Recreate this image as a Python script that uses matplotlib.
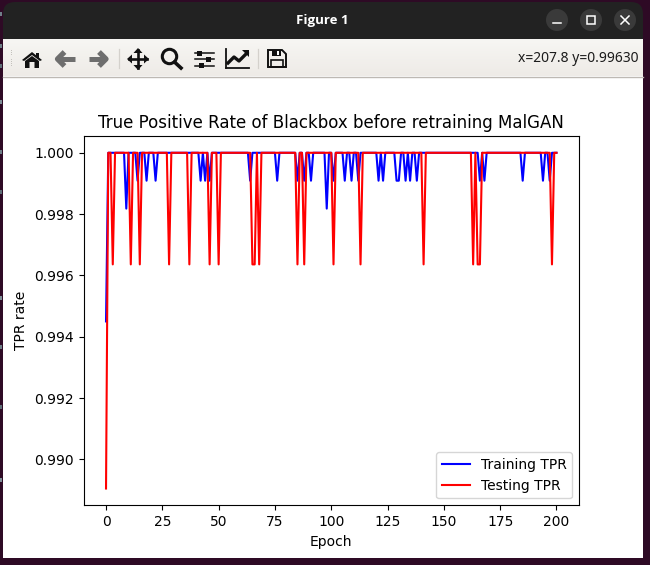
import numpy as np
import matplotlib
matplotlib.use('Agg')
import matplotlib.pyplot as plt
from matplotlib.patches import Rectangle, Polygon, Circle, FancyBboxPatch

# epochs where the curves leave 1.0
epochs = np.arange(0, 201)
train_start = 0.9945
test_start = 0.98905
train_small_dips = [14, 18, 22, 42, 44, 46, 64, 76, 85, 88, 91, 101, 106, 109, 112,
                    121, 123, 129, 130, 133, 135, 138, 166, 168, 185, 194, 197]
train_small_value = 0.99909
train_deep_dips = [9, 98]
train_deep_value = 0.99818
test_dips = [3, 11, 15, 28, 37, 46, 50, 65, 66, 68, 85, 88, 101, 113, 141, 163, 165, 166, 198]
test_dip_value = 0.99636

train_tpr = np.ones(len(epochs))
train_tpr[train_small_dips] = train_small_value
train_tpr[train_deep_dips] = train_deep_value
train_tpr[0] = train_start
test_tpr = np.ones(len(epochs))
test_tpr[test_dips] = test_dip_value
test_tpr[0] = test_start

W, H = 650, 565
fig = plt.figure(figsize=(W / 100, H / 100), dpi=100, facecolor='#2e0a25')

# window chrome, in screen pixels
bg = fig.add_axes([0, 0, 1, 1], zorder=0)
bg.axis('off')
grad = np.linspace(0, 1, 40)[:, None]
bg.imshow(grad, extent=(3, 643, 76, 39), aspect='auto', zorder=2,
          cmap=matplotlib.colors.LinearSegmentedColormap.from_list('tb', ['#f7f6f3', '#eeebe7']))
bg.set_xlim(0, W)
bg.set_ylim(H, 0)
bg.add_patch(FancyBboxPatch((3, 2), 640, 60, boxstyle='round,pad=0,rounding_size=12',
                            fc='#222222', ec='none', zorder=1))
bg.add_patch(Rectangle((3, 76), 640, 482, fc='white', ec='none', zorder=1))
bg.plot([3, 643], [76.5, 76.5], color='#bdb9b4', lw=1, zorder=3)
bg.text(322, 20.5, 'Figure 1', color='white', fontsize=9.5, fontweight='bold',
        family='Open Sans', ha='center', va='center')
bg.text(638.5, 58, 'x=207.8 y=0.99630', color='#1c1c1c', fontsize=10, family='Noto Sans',
        ha='right', va='center', zorder=4)

# desktop showing at the left edge
for y, c in [(12, '#6f7f88'), (44, '#6f7f88'), (64, '#5f6f78'), (100, '#7f8f98'), (150, '#6f7f88'),
             (190, '#5f6f78'), (296, '#7f8f98'), (345, '#6f7f88'), (405, '#5f6f78'), (478, '#7f8f98')]:
    bg.add_patch(Rectangle((0, y), 2, 4, fc=c, ec='none', zorder=1))

# title bar buttons
for cx in [557, 591, 625]:
    bg.add_patch(Circle((cx, 20), 11, fc='#3a3a3a', ec='none', zorder=3))
bg.plot([553, 561], [23, 23], color='white', lw=1.1, zorder=4)
bg.add_patch(Rectangle((587, 16), 8, 8, fc='none', ec='white', lw=1.1, zorder=4))
bg.plot([621, 629], [16, 24], color='white', lw=1.1, zorder=4)
bg.plot([621, 629], [24, 16], color='white', lw=1.1, zorder=4)

# toolbar icons
ink = '#111111'
grey = '#6e6e6e'
for gx in [8.5, 11]:
    for gy in np.arange(50, 67, 2.2):
        bg.add_patch(Rectangle((gx, gy), 0.8, 0.8, fc='#c4c2bd', ec='none', zorder=4))
for sx in [118.5, 257.5]:
    bg.plot([sx, sx], [49, 68], color='#d4d1cc', lw=0.9, zorder=4)

# home
bg.add_patch(Polygon([(22, 60), (32, 52), (42, 60), (40, 61), (32, 55), (24, 61)], fc=ink, zorder=4))
bg.add_patch(Polygon([(25, 61), (32, 56), (39, 61), (39, 68), (34.5, 68), (34.5, 62), (29.5, 62),
                      (29.5, 68), (25, 68)], fc=ink, zorder=4))
bg.add_patch(Rectangle((36, 53), 3, 5, fc=ink, zorder=4))

# back and forward
for cx, d in [(65.5, -1), (98, 1)]:
    bg.plot([cx - 9 * d, cx + 6 * d], [59, 59], color=grey, lw=3.6, solid_capstyle='butt', zorder=4)
    bg.plot([cx + 1 * d, cx + 8 * d, cx + 1 * d], [52, 59, 66], color=grey, lw=3.8,
            solid_capstyle='butt', zorder=4)

# move
bg.plot([129, 147], [59, 59], color=ink, lw=1.9, zorder=4)
bg.plot([138, 138], [50, 68], color=ink, lw=1.9, zorder=4)
for tip, a, b in [((127, 59), (132, 54.5), (132, 63.5)), ((149, 59), (144, 54.5), (144, 63.5)),
                  ((138, 48), (133.5, 53), (142.5, 53)), ((138, 70), (133.5, 65), (142.5, 65))]:
    bg.add_patch(Polygon([tip, a, b], fc=ink, zorder=4))

# zoom
bg.add_patch(Circle((169.5, 56.5), 7.2, fc='none', ec=ink, lw=2.2, zorder=4))
bg.plot([174.5, 181], [62, 68], color=ink, lw=2.6, zorder=4)

# sliders
for sy, sx in [(53, 199), (59, 208), (65.5, 201)]:
    bg.plot([195, 214], [sy, sy], color=ink, lw=1.1, zorder=4)
    bg.add_patch(Rectangle((sx - 2.5, sy - 2.5), 5, 5, fc=ink, zorder=4))

# chart
bg.plot([226, 249], [67.5, 67.5], color=ink, lw=1.3, zorder=4)
bg.plot([225.5, 225.5], [49, 68], color=ink, lw=1.3, zorder=4)
bg.plot([228, 234, 239, 247], [63, 57, 61, 53], color=ink, lw=2.4, zorder=4)
bg.add_patch(Polygon([(249, 50), (249, 57), (242, 50)], fc=ink, zorder=4))

# save
bg.add_patch(Polygon([(268, 50), (282, 50), (286, 54), (286, 67), (268, 67)], fc='none', ec=ink, lw=1.4,
                     zorder=4))
bg.add_patch(Rectangle((272, 50), 9, 6, fc=ink, zorder=4))
bg.add_patch(Rectangle((277, 51), 2, 4, fc='white', zorder=4))
bg.add_patch(Rectangle((271, 60), 12, 7, fc='none', ec=ink, lw=1.2, zorder=4))

# the chart itself
ax = fig.add_axes([83.5 / W, (H - 505.3) / H, 495.5 / W, 369.3 / H], zorder=1)
ax.plot(epochs, train_tpr, color='blue', label='Training TPR')
ax.plot(epochs, test_tpr, color='red', label='Testing TPR')
ax.set_title('True Positive Rate of Blackbox before retraining MalGAN')
ax.set_xlabel('Epoch')
ax.set_ylabel('TPR rate')
ax.legend(loc='lower right')

fig.savefig('out.png', dpi=100, facecolor=fig.get_facecolor())
